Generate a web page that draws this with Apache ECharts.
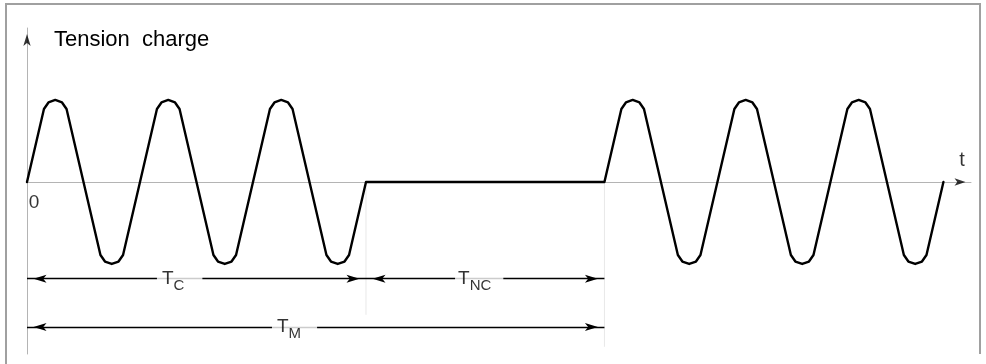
<!DOCTYPE html>
<html>
<head>
<meta charset="utf-8">
<script src="https://cdn.jsdelivr.net/npm/echarts@6/dist/echarts.min.js"></script>
<style>
html, body { margin: 0; padding: 0; background: #fff; }
#frame {
  position: absolute; left: 5px; top: 3px; width: 976px; height: 351px;
  border: 2px solid #a0a0a0; border-bottom: none; box-sizing: border-box;
}
#frameLeft { position: absolute; left: 5px; top: 3px; width: 2px; height: 361px; background: #a0a0a0; }
#chart { position: absolute; left: 0; top: 0; width: 986px; height: 364px; }
</style>
</head>
<body>
<div id="frame"></div>
<div id="frameLeft"></div>
<div id="chart"></div>
<script>
// time in wave periods, value in amplitude units
const burst1 = [
  [0, 0], [0.15, 0.89], [0.19, 0.97], [0.25, 1], [0.31, 0.97], [0.35, 0.89],
  [0.65, -0.89], [0.69, -0.97], [0.75, -1], [0.81, -0.97], [0.85, -0.89],
  [1.15, 0.89], [1.19, 0.97], [1.25, 1], [1.31, 0.97], [1.35, 0.89],
  [1.65, -0.89], [1.69, -0.97], [1.75, -1], [1.81, -0.97], [1.85, -0.89],
  [2.15, 0.89], [2.19, 0.97], [2.25, 1], [2.31, 0.97], [2.35, 0.89],
  [2.65, -0.89], [2.69, -0.97], [2.75, -1], [2.81, -0.97], [2.85, -0.89], [3, 0]
];
const pause = [[3, 0], [5.11, 0]];
const burst2 = [
  [5.11, 0], [5.26, 0.89], [5.30, 0.97], [5.36, 1], [5.42, 0.97], [5.46, 0.89],
  [5.76, -0.89], [5.80, -0.97], [5.86, -1], [5.92, -0.97], [5.96, -0.89],
  [6.26, 0.89], [6.30, 0.97], [6.36, 1], [6.42, 0.97], [6.46, 0.89],
  [6.76, -0.89], [6.80, -0.97], [6.86, -1], [6.92, -0.97], [6.96, -0.89],
  [7.26, 0.89], [7.30, 0.97], [7.36, 1], [7.42, 0.97], [7.46, 0.89],
  [7.76, -0.89], [7.80, -0.97], [7.86, -1], [7.92, -0.97], [7.96, -0.89], [8.11, 0]
];

// dimension arrows: T_C, T_NC, T_M
const dimNames = ['C', 'NC', 'M'];
const dimFrom = [0, 3, 0];
const dimTo = [3, 5.11, 5.11];
const dimLevel = [-1.18, -1.18, -1.77];

// faint extension lines under the burst edges
const guideAt = [3, 5.11];
const guideDown = [-1.62, -2.01];

const xMax = 8.354, yMin = -2.098, yMax = 1.878;
const grayLine = '#b4b4b4';
const font = 'Liberation Sans';

// where the label sits in each dimension line, and its gap padding
const labelAt = [1.15, 3.788, 2.168];
const labelPad = [[0, 18, 0, 5], [0, 12, 0, 3], [0, 16, 0, 5]];

// arrow head at one end of a dimension line, tip on the end point
const endArrow = coord => ({
  coord: coord, symbol: 'arrow', symbolSize: [6, 13], symbolOffset: [0, 6.5]
});

const chart = echarts.init(document.getElementById('chart'));

chart.setOption({
  animation: false,
  grid: { left: 27, right: 15, top: 28, bottom: 10, containLabel: false, outerBoundsMode: 'none' },
  xAxis: {
    type: 'value', min: 0, max: xMax, interval: 1,
    axisLine: { onZero: true, lineStyle: { color: grayLine, width: 1 } },
    axisTick: { show: false },
    splitLine: { show: false },
    axisLabel: { show: false }
  },
  yAxis: {
    type: 'value', min: yMin, max: yMax,
    name: 'Tension  charge', nameLocation: 'end', nameGap: -12,
    nameTextStyle: {
      fontFamily: font, fontSize: 22, color: '#000',
      align: 'left', verticalAlign: 'middle', padding: [0, 0, 0, 27]
    },
    axisLine: { show: true, onZero: true, lineStyle: { color: grayLine, width: 1 } },
    axisTick: { show: false },
    splitLine: { show: false },
    axisLabel: { show: false }
  },
  series: [
    ...guideAt.map((t, i) => ({
      type: 'line', silent: true, showSymbol: false, z: 1,
      data: [[t, 0], [t, guideDown[i]]],
      lineStyle: { color: '#e8e8e8', width: 1 }
    })),
    {
      name: 'signal', type: 'line', showSymbol: false, silent: true, z: 3,
      data: burst1.concat(pause, burst2),
      lineStyle: { color: '#000', width: 2.4, join: 'round', cap: 'round' },
      markLine: {
        silent: true, z: 5,
        symbol: ['arrow', 'arrow'],
        label: { show: false },
        lineStyle: { color: '#000', width: 1.4, type: 'solid' },
        itemStyle: { color: '#000' },
        emphasis: { disabled: true },
        data: dimNames.map((n, i) => [
          endArrow([dimFrom[i], dimLevel[i]]),
          endArrow([dimTo[i], dimLevel[i]])
        ])
      }
    },
    {
      type: 'scatter', silent: true, z: 10, symbolSize: 0, clip: false,
      data: dimNames.map((n, i) => ({
        value: [labelAt[i], dimLevel[i]],
        label: { padding: labelPad[i] }
      })),
      label: {
        show: true, position: 'right', distance: 0,
        backgroundColor: '#fff',
        formatter: p => '{t|T}{s|' + dimNames[p.dataIndex] + '}',
        rich: {
          t: { fontFamily: font, fontSize: 19, color: '#000' },
          s: { fontFamily: font, fontSize: 15, color: '#000', padding: [14, 0, 0, 0] }
        }
      }
    },
    {
      // origin and time-axis labels
      type: 'scatter', silent: true, z: 10, symbolSize: 0, clip: false,
      data: [
        { value: [0, 0], label: { formatter: '0', position: [7, 21] } },
        { value: [xMax, 0], label: { formatter: 't', position: [-9, -21], fontSize: 20 } }
      ],
      label: {
        show: true, fontFamily: font, fontSize: 19, color: '#000',
        align: 'center', verticalAlign: 'middle'
      }
    },
    {
      // axis arrow heads
      type: 'scatter', silent: true, z: 10, clip: false, symbol: 'arrow',
      itemStyle: { color: '#000' },
      data: [
        { value: [xMax, 0], symbolSize: [5.5, 11], symbolRotate: -90, symbolOffset: [-5.5, 0] },
        { value: [0, yMax], symbolSize: [5.5, 12], symbolRotate: 0, symbolOffset: [0, 6] }
      ]
    }
  ]
});
</script>
</body>
</html>
